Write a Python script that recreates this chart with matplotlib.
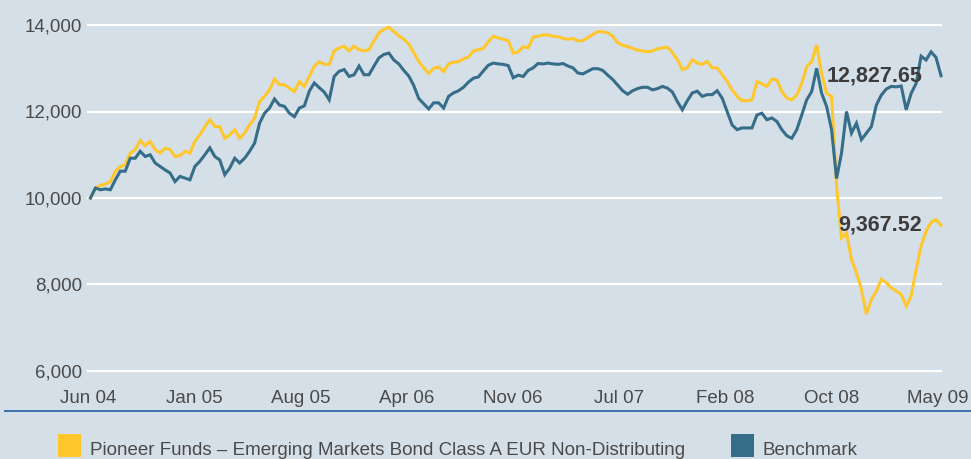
import numpy as np
import matplotlib
matplotlib.use('Agg')
import matplotlib.pyplot as plt
from matplotlib.patches import Rectangle
from matplotlib.lines import Line2D

# ---------------- data ----------------
fund = [
    10000, 10230, 10290, 10320, 10380, 10620, 10730, 10770, 11040, 11120, 11330, 11210, 11310, 11120, 11040,
    11150, 11120, 10960, 10980, 11080, 11040, 11310, 11460, 11650, 11810, 11650, 11650, 11380, 11460, 11580,
    11380, 11500, 11690, 11850, 12230, 12350, 12500, 12750, 12620, 12620, 12540, 12460, 12690, 12580,
    12810, 13050, 13150, 13090, 13090, 13400, 13470, 13510, 13400, 13510, 13430, 13400, 13430, 13630, 13820,
    13900, 13950, 13850, 13750, 13670, 13560, 13360, 13160, 13010, 12880, 13000, 13030, 12920, 13100, 13140,
    13150, 13220, 13260, 13400, 13430, 13460, 13620, 13740, 13700, 13670, 13640, 13350, 13380,
    13500, 13470, 13720, 13740, 13770, 13770, 13740, 13730, 13690, 13670, 13690, 13630, 13640, 13710, 13780,
    13850, 13840, 13820, 13740, 13590, 13530, 13500, 13460, 13420, 13400, 13380, 13400, 13450, 13470, 13490,
    13360, 13200, 12970, 13010, 13200, 13120, 13090, 13160, 13010, 13010, 12850, 12700, 12500,
    12350, 12250, 12250, 12270, 12690, 12640, 12580, 12750, 12730, 12460, 12310, 12270, 12380, 12650, 13040,
    13150, 13540, 12880, 12420, 12350, 10270, 9080, 9190, 8580, 8270, 7890, 7310, 7650, 7850, 8120,
    8040, 7920, 7850, 7770, 7500, 7730, 8350, 8890, 9230, 9440, 9500, 9367.52,
]
bench = [
    10000, 10230, 10190, 10210, 10190, 10420, 10620, 10620, 10920, 10920, 11080, 10960, 11000, 10810, 10730,
    10650, 10580, 10380, 10500, 10460, 10420, 10730, 10850, 11000, 11160, 10960, 10880, 10540, 10690, 10920,
    10810, 10920, 11080, 11270, 11730, 11960, 12080, 12290, 12150, 12120, 11960, 11880, 12080, 12130,
    12470, 12660, 12550, 12450, 12270, 12810, 12930, 12970, 12810, 12850, 13050, 12850, 12850, 13050, 13240,
    13320, 13350, 13190, 13100, 12950, 12820, 12600, 12300, 12180, 12060, 12200, 12200, 12080, 12350, 12430,
    12480, 12560, 12680, 12770, 12800, 12940, 13070, 13120, 13100, 13090, 13060, 12780, 12840,
    12810, 12950, 13010, 13110, 13100, 13120, 13100, 13090, 13110, 13050, 13010, 12890, 12870, 12930, 12990,
    12990, 12950, 12840, 12740, 12610, 12480, 12400, 12480, 12530, 12560, 12560, 12500, 12530, 12580, 12540,
    12450, 12230, 12040, 12250, 12430, 12470, 12350, 12390, 12390, 12480, 12310, 12000, 11690,
    11580, 11620, 11620, 11620, 11920, 11960, 11810, 11850, 11770, 11580, 11440, 11380, 11580, 11920, 12270,
    12460, 13000, 12420, 12120, 11580, 10450, 11040, 12000, 11500, 11730, 11350, 11500, 11650, 12150, 12380,
    12520, 12580, 12570, 12590, 12040, 12420, 12650, 13280, 13190, 13380, 13250, 12827.65,
]
x_tick_labels = ['Jun 04', 'Jan 05', 'Aug 05', 'Apr 06', 'Nov 06', 'Jul 07', 'Feb 08', 'Oct 08', 'May 09']
y_ticks = [6000, 8000, 10000, 12000, 14000]
fund_name = 'Pioneer Funds – Emerging Markets Bond Class A EUR Non-Distributing'
bench_name = 'Benchmark'
fund_end_label = '9,367.52'
bench_end_label = '12,827.65'

# ---------------- style ----------------
BG = '#d5dfe7'
YELLOW = '#ffc72c'
TEAL = '#366d88'
TXT = '#4a4a4a'
plt.rcParams['font.family'] = ['Liberation Sans', 'DejaVu Sans']

W, H = 971, 459
fig = plt.figure(figsize=(W / 100, H / 100), dpi=100, facecolor=BG)
ax = fig.add_axes([88 / W, 1 - 371 / H, (941 - 88) / W, (371 - 25) / H])
ax.set_facecolor(BG)

n = len(fund)
x = np.linspace(0, 59, n)
ax.set_xlim(0, 59)
ax.set_ylim(6000, 14000)

for yv in y_ticks:
    ax.axhline(yv, color='white', lw=1.6, zorder=0, clip_on=False)

ax.plot(x, fund, color=YELLOW, lw=2.2, zorder=2, clip_on=False, solid_joinstyle='miter')
ax.plot(x, bench, color=TEAL, lw=2.2, zorder=3, clip_on=False, solid_joinstyle='miter')

ax.text(57.7, fund[-1], fund_end_label, ha='right', va='center', fontsize=15.5,
        fontweight='bold', color='#3c3c3c', zorder=5)
ax.text(57.7, bench[-1], bench_end_label, ha='right', va='center', fontsize=15.5,
        fontweight='bold', color='#3c3c3c', zorder=5)

ax.set_yticks(y_ticks)
ax.set_yticklabels([f'{v:,}' for v in y_ticks])
ax.set_xticks(np.linspace(-0.17, 58.8, len(x_tick_labels)))
ax.set_xticklabels(x_tick_labels)
ax.tick_params(axis='both', length=0, labelsize=13.5, labelcolor=TXT)
ax.tick_params(axis='y', pad=4.5)
ax.tick_params(axis='x', pad=14)
for s in ax.spines.values():
    s.set_visible(False)

# separator line
fig.add_artist(Line2D([5 / W, 1.0], [1 - 411 / H, 1 - 411 / H], color='#3a72a6', lw=1.4))

# legend
sq = 23
fig.add_artist(Rectangle((58 / W, 1 - 457 / H), sq / W, sq / H, transform=fig.transFigure,
                         facecolor=YELLOW, edgecolor='none'))
fig.text(90 / W, 1 - 455 / H, fund_name, ha='left', va='baseline', fontsize=13.5, color=TXT)
fig.add_artist(Rectangle((731 / W, 1 - 457 / H), sq / W, sq / H, transform=fig.transFigure,
                         facecolor=TEAL, edgecolor='none'))
fig.text(763 / W, 1 - 455 / H, bench_name, ha='left', va='baseline', fontsize=13.5, color=TXT)

fig.savefig('out.png', dpi=100, facecolor=BG)
